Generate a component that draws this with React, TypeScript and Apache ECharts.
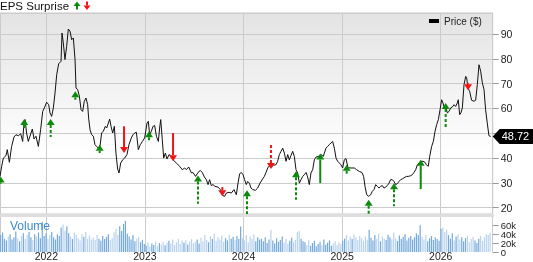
import React, { useEffect, useRef } from 'react';
import * as echarts from 'echarts';

// ---- Data ----
// Weekly-ish closing prices; dates as decimal years
const PRICE_DATES = [
  2021.530, 2021.547, 2021.564, 2021.591, 2021.604, 2021.625, 2021.648, 2021.672, 2021.692, 2021.716,
  2021.740, 2021.760, 2021.773, 2021.784, 2021.800, 2021.817, 2021.834, 2021.858, 2021.875, 2021.895,
  2021.919, 2021.942, 2021.963, 2021.980, 2022.003, 2022.024, 2022.037, 2022.054, 2022.071, 2022.088,
  2022.105, 2022.125, 2022.149, 2022.159, 2022.172, 2022.189, 2022.206, 2022.223, 2022.240, 2022.257,
  2022.274, 2022.291, 2022.301, 2022.318, 2022.335, 2022.352, 2022.368, 2022.385, 2022.402, 2022.419,
  2022.429, 2022.443, 2022.460, 2022.477, 2022.493, 2022.510, 2022.527, 2022.544, 2022.561, 2022.578,
  2022.598, 2022.612, 2022.629, 2022.642, 2022.656, 2022.673, 2022.690, 2022.706, 2022.723, 2022.737,
  2022.754, 2022.774, 2022.794, 2022.818, 2022.838, 2022.862, 2022.879, 2022.896, 2022.913, 2022.933,
  2022.953, 2022.974, 2022.997, 2023.021, 2023.034, 2023.048, 2023.065, 2023.082, 2023.099, 2023.116,
  2023.136, 2023.149, 2023.160, 2023.176, 2023.190, 2023.207, 2023.224, 2023.244, 2023.261, 2023.285,
  2023.318, 2023.352, 2023.379, 2023.403, 2023.420, 2023.444, 2023.471, 2023.487, 2023.514, 2023.538,
  2023.562, 2023.582, 2023.602, 2023.623, 2023.640, 2023.656, 2023.673, 2023.690, 2023.711, 2023.741,
  2023.765, 2023.792, 2023.809, 2023.825, 2023.853, 2023.876, 2023.903, 2023.927, 2023.944, 2023.961,
  2023.978, 2023.995, 2024.011, 2024.028, 2024.042, 2024.059, 2024.076, 2024.093, 2024.120, 2024.143,
  2024.167, 2024.194, 2024.211, 2024.228, 2024.245, 2024.262, 2024.279, 2024.302, 2024.329, 2024.346,
  2024.363, 2024.380, 2024.397, 2024.414, 2024.431, 2024.448, 2024.464, 2024.481, 2024.498, 2024.515,
  2024.532, 2024.549, 2024.566, 2024.583, 2024.600, 2024.617, 2024.634, 2024.650, 2024.667, 2024.684,
  2024.701, 2024.718, 2024.735, 2024.762, 2024.786, 2024.809, 2024.836, 2024.853, 2024.870, 2024.887,
  2024.904, 2024.921, 2024.938, 2024.955, 2024.972, 2024.988, 2025.005, 2025.022, 2025.039, 2025.056,
  2025.073, 2025.100, 2025.124, 2025.147, 2025.174, 2025.201, 2025.218, 2025.232, 2025.249, 2025.269,
  2025.289, 2025.306, 2025.323, 2025.340, 2025.357, 2025.374, 2025.391, 2025.408, 2025.425, 2025.441,
  2025.458, 2025.475, 2025.492, 2025.509, 2025.526, 2025.543, 2025.560, 2025.577, 2025.594, 2025.610,
  2025.627, 2025.651, 2025.671, 2025.695, 2025.712, 2025.729, 2025.746, 2025.763, 2025.780, 2025.797,
  2025.820, 2025.840, 2025.854, 2025.874, 2025.888, 2025.908, 2025.925, 2025.942, 2025.959, 2025.976,
  2025.993, 2026.009, 2026.023, 2026.036, 2026.050, 2026.067, 2026.084, 2026.101, 2026.118, 2026.135,
  2026.151, 2026.168, 2026.178, 2026.192, 2026.205, 2026.219, 2026.236, 2026.253, 2026.263, 2026.276,
  2026.293, 2026.313, 2026.337, 2026.354, 2026.371, 2026.388, 2026.405, 2026.422, 2026.439, 2026.455,
  2026.472, 2026.489, 2026.506,
];
const PRICES = [
  32.6, 36.7, 40.0, 41.0, 43.4, 38.3, 44.7, 48.5, 49.4, 49.0,
  49.8, 46.7, 54.1, 55.5, 50.1, 46.7, 48.8, 51.7, 47.7, 48.8,
  44.7, 51.4, 58.8, 60.2, 62.5, 61.5, 58.2, 56.8, 60.2, 66.2,
  73.6, 78.0, 79.0, 90.4, 86.4, 79.7, 85.0, 92.0, 91.1, 87.7,
  88.4, 79.7, 68.2, 67.6, 64.9, 59.5, 58.8, 62.9, 64.2, 61.5,
  56.1, 51.4, 49.4, 48.8, 45.4, 44.7, 44.0, 44.7, 50.1, 50.8,
  52.8, 52.1, 54.1, 55.7, 52.8, 50.1, 52.8, 42.0, 35.6, 34.0,
  38.0, 39.3, 40.0, 41.4, 45.4, 48.1, 49.4, 50.1, 50.4, 43.4,
  45.4, 46.7, 48.1, 54.1, 54.8, 49.4, 50.8, 52.8, 53.1, 48.8,
  46.7, 52.1, 55.5, 47.4, 40.0, 42.0, 39.6, 41.4, 41.0, 39.3,
  38.0, 36.7, 35.3, 36.0, 35.3, 36.4, 34.0, 34.2, 32.6, 34.2,
  35.0, 34.2, 32.4, 31.3, 29.3, 31.3, 28.9, 29.3, 28.6, 28.3,
  27.3, 24.8, 24.6, 25.9, 26.2, 25.9, 27.3, 25.2, 29.9, 33.7,
  34.2, 33.3, 31.3, 29.3, 30.6, 29.9, 27.9, 27.3, 27.0, 27.9,
  29.9, 31.6, 32.6, 34.2, 36.0, 36.9, 36.4, 37.1, 37.3, 38.7,
  41.4, 42.7, 44.0, 42.0, 38.7, 41.4, 39.3, 41.0, 42.7, 40.7,
  35.3, 34.0, 29.9, 31.3, 32.6, 33.3, 34.2, 32.4, 29.3, 34.0,
  35.3, 39.3, 40.4, 40.7, 41.4, 40.7, 44.0, 44.7, 45.4, 46.1,
  46.7, 44.0, 40.0, 38.7, 38.0, 37.3, 36.0, 39.3, 39.8, 36.7,
  36.0, 36.0, 36.0, 35.3, 34.6, 34.2, 32.6, 28.6, 25.2, 24.6,
  25.2, 26.6, 27.3, 29.3, 28.6, 27.9, 28.6, 28.9, 27.9, 28.3,
  28.9, 29.9, 31.3, 31.3, 30.6, 29.3, 29.7, 30.6, 31.3, 31.6,
  32.0, 32.6, 32.6, 32.9, 33.3, 34.2, 35.3, 37.3, 38.0, 38.7,
  38.7, 38.3, 37.3, 36.7, 40.7, 44.7, 46.7, 50.8, 53.5, 55.5,
  59.5, 63.5, 62.2, 60.2, 60.8, 58.2, 58.8, 60.2, 60.6, 61.5,
  60.8, 62.2, 63.5, 57.5, 58.2, 60.2, 69.6, 72.9, 72.3, 68.2,
  66.9, 63.3, 62.9, 63.3, 69.6, 77.6, 75.0, 70.3, 67.6, 59.5,
  54.1, 49.0, 48.72,
];

// EPS surprise arrows: date, price at arrow tip, price at arrow tail, beat (1 up / 0 down), dashed shaft
const EPS_DATES = [
  2021.537, 2021.776, 2022.044, 2022.294, 2022.541, 2022.788, 2023.041, 2023.285, 2023.538, 2023.785,
  2024.035, 2024.278, 2024.532, 2024.778, 2025.046, 2025.269, 2025.526, 2025.797, 2026.050, 2026.277,
];
const EPS_TIP = [
  32.6, 55.7, 55.7, 66.9, 45.4, 42.0, 50.8, 38.7, 33.0, 24.6,
  27.0, 35.6, 34.7, 41.8, 37.3, 23.2, 29.9, 39.3, 62.2, 67.3,
];
const EPS_TAIL = [
  29.7, 52.1, 48.5, 63.5, 42.0, 52.8, 47.2, 50.1, 21.6, 28.3,
  17.5, 45.4, 23.2, 29.9, 33.7, 17.5, 20.6, 27.5, 52.1, 70.2,
];
const EPS_BEAT = [1, 1, 1, 1, 1, 0, 1, 0, 1, 0, 1, 0, 1, 1, 1, 1, 1, 1, 1, 0];
const EPS_DASHED = [0, 0, 1, 0, 0, 0, 1, 0, 1, 0, 1, 1, 1, 0, 0, 1, 1, 0, 1, 0];

// Weekly volume (thousands of shares)
const VOLUME_START = 2021.537;
const VOLUME_WEEK = 1 / 52.18;
const VOLUMES_K = [
  38, 44, 30, 26, 35, 40, 28, 33, 46, 31, 24, 36, 42, 29, 38, 45, 33, 27,
  40, 35, 44, 31,
  68,
  36, 42, 30, 38, 45, 33, 28, 40, 36,
  55, 62, 48, 58,
  42, 35, 29, 44, 38, 31, 26, 40, 34, 45, 30, 37, 28,
  33, 27, 38, 30, 25, 36, 29, 34, 40, 27, 31,
  44, 52, 38, 58, 47, 63, 70, 41,
  35, 28, 38, 24, 30, 33, 22, 27,
  18, 14, 22, 12, 19, 16, 24, 13, 20, 17, 23, 15, 21,
  25, 19, 28, 16, 22, 30, 18, 26, 21, 27, 17, 24, 29, 20, 23, 28, 19,
  32, 24, 38, 27, 22, 35, 29, 41, 25, 33, 28, 37, 23, 31, 26, 39, 30, 34, 27, 36, 29, 57,
  31, 26, 38, 22, 35, 29, 40, 24, 33, 28,
  30, 24, 33, 20, 28, 50, 26, 19, 31, 23, 27, 35, 21, 29, 18, 25, 32, 22,
  27, 45, 48, 30, 24,
  22, 16, 27, 14, 20, 25, 13, 18, 23, 15, 28, 17, 21, 26, 14, 19, 24, 16, 22, 18, 25,
  30, 38, 26, 34, 29, 40, 33, 27, 36, 31, 25, 35, 28, 50,
  32, 26, 38, 29, 41, 24, 35, 30, 27, 39, 33, 28, 44, 31, 25, 37, 29, 34, 40, 26, 32, 36, 28, 33, 42, 38, 60,
  34, 28, 38, 24, 31, 36, 27, 33, 29, 25,
  52, 55, 45, 50,
  38, 30, 42, 26, 35, 40, 28, 33, 24, 31, 37, 22, 29, 34, 26, 20, 30, 36, 25, 33, 40, 38, 43,
];

const X_MIN = 2021.53;
const X_MAX = 2026.527;
const PRICE_MIN = 17.46;
const PRICE_MAX = 98.46;
const VOL_MAX = 78600;
const VOL_STEP = 20000;

const FONT = "'Liberation Sans', Arial, Helvetica, sans-serif";
const GRID_COLOR = '#cbcbcb';
const GREEN = '#0b8a0b';
const RED = '#f01414';

const VOL_PX = 35; // height of the volume panel

export default function App() {
  const ref = useRef<HTMLDivElement>(null);

  useEffect(() => {
    if (!ref.current) return;
    const chart = echarts.init(ref.current, null, { renderer: 'svg' });

    const priceData = PRICE_DATES.map((d, i) => [d, PRICES[i]]);
    const lastPrice = PRICES[PRICES.length - 1];
    const priceAt = (t: number) => {
      if (t <= PRICE_DATES[0]) return PRICES[0];
      for (let i = 1; i < PRICE_DATES.length; i++) {
        if (t <= PRICE_DATES[i]) {
          const a = PRICE_DATES[i - 1];
          const b = PRICE_DATES[i];
          const f = (t - a) / (b - a);
          return PRICES[i - 1] + f * (PRICES[i] - PRICES[i - 1]);
        }
      }
      return lastPrice;
    };
    const volumeData = VOLUMES_K.map((v, i) => {
      const t = VOLUME_START + i * VOLUME_WEEK;
      const up = priceAt(t + VOLUME_WEEK / 2) >= priceAt(t - VOLUME_WEEK / 2);
      return { value: [t, v * 1000], itemStyle: { color: up ? '#74a9dc' : '#b9d3ee' } };
    });
    const epsData = EPS_DATES.map((d, i) => [d, EPS_TIP[i], EPS_TAIL[i], EPS_BEAT[i], EPS_DASHED[i]]);
    const last = priceData[priceData.length - 1];

    const yearLabel = (v: number) =>
      Math.abs(v - Math.round(v)) < 1e-6 ? String(Math.round(v)) : '';

    const xBase: any = {
      type: 'value',
      min: X_MIN,
      max: X_MAX,
      splitNumber: 5,
      axisTick: { show: false },
      splitLine: { show: true, lineStyle: { color: GRID_COLOR, width: 1 } },
    };

    // second, invisible panel that carries the 20k / 60k labels of the volume scale
    // (same scale as the volume panel, shifted down by one 20k step)
    const pxPerVol = VOL_PX / VOL_MAX;
    const volLabelPanelH = VOL_PX + VOL_STEP * pxPerVol;

    const volLabel = {
      margin: 8,
      fontSize: 9.5,
      lineHeight: 7,
      color: '#222',
      fontFamily: FONT,
      hideOverlap: false,
    };

    const option: any = {
      animation: false,
      textStyle: { fontFamily: FONT },
      title: [
        {
          text: 'EPS Surprise',
          left: 0,
          top: 0,
          padding: 0,
          textStyle: { fontSize: 11.5, fontWeight: 'normal', color: '#111', fontFamily: FONT },
        },
        {
          text: 'Volume',
          left: 10,
          top: 220,
          padding: 0,
          textStyle: { fontSize: 12, fontWeight: 'normal', color: '#3d8bd0', fontFamily: FONT },
        },
      ],
      legend: {
        data: [{ name: 'Price ($)', icon: 'rect', itemStyle: { color: '#000' } }],
        left: 429,
        top: 16,
        padding: 0,
        itemWidth: 10,
        itemHeight: 4,
        itemGap: 0,
        textStyle: { fontSize: 10, color: '#222', fontFamily: FONT },
      },
      graphic: [
        { type: 'polygon', shape: { points: [[73.5, 6], [77, 1.5], [80.5, 6]] }, style: { fill: GREEN } },
        { type: 'rect', shape: { x: 76, y: 6, width: 2, height: 3.5 }, style: { fill: GREEN } },
        { type: 'rect', shape: { x: 86, y: 1.5, width: 2, height: 4 }, style: { fill: RED } },
        { type: 'polygon', shape: { points: [[83.5, 5.5], [87, 10], [90.5, 5.5]] }, style: { fill: RED } },
      ],
      grid: [
        {
          left: 0,
          right: 40.3,
          top: 13,
          height: 201,
          show: true,
          outerBoundsMode: 'none',
          backgroundColor: new echarts.graphic.LinearGradient(0, 0, 0, 1, [
            { offset: 0, color: '#e3e3e3' },
            { offset: 0.7, color: '#ffffff' },
            { offset: 1, color: '#ffffff' },
          ]),
          borderColor: GRID_COLOR,
          borderWidth: 1,
        },
        {
          left: 0,
          right: 40.3,
          top: 217,
          height: VOL_PX,
          show: true,
          outerBoundsMode: 'none',
          backgroundColor: '#ffffff',
          borderWidth: 0,
        },
        {
          left: 0,
          right: 40.3,
          top: 217,
          height: volLabelPanelH,
          show: false,
          outerBoundsMode: 'none',
        },
      ],
      xAxis: [
        {
          ...xBase,
          gridIndex: 0,
          offset: 1.5,
          axisLabel: { show: false },
          axisLine: { show: true, lineStyle: { color: '#dedede', width: 3 } },
        },
        {
          ...xBase,
          gridIndex: 1,
          axisLine: { show: false },
          axisLabel: {
            show: true,
            formatter: yearLabel,
            showMinLabel: false,
            showMaxLabel: false,
            hideOverlap: false,
            margin: -1,
            fontSize: 10.5,
            lineHeight: 10,
            color: '#222',
            fontFamily: FONT,
          },
        },
        {
          type: 'value',
          gridIndex: 2,
          min: X_MIN,
          max: X_MAX,
          show: false,
        },
      ],
      yAxis: [
        {
          gridIndex: 0,
          type: 'value',
          position: 'right',
          min: PRICE_MIN,
          max: PRICE_MAX,
          splitNumber: 8,
          axisLine: { show: true, lineStyle: { color: GRID_COLOR } },
          axisTick: { show: true, length: 6, lineStyle: { color: '#9a9a9a' } },
          axisLabel: {
            margin: 8,
            fontSize: 10.5,
            color: '#222',
            fontFamily: FONT,
            showMinLabel: false,
            showMaxLabel: false,
            hideOverlap: false,
            // the label hidden under the last-price tag is not shown
            formatter: (v: number) =>
              Math.abs(v - Math.round(v)) < 1e-6 && Math.abs(v - lastPrice) > 4 ? String(Math.round(v)) : '',
          },
          splitLine: { show: true, lineStyle: { color: GRID_COLOR } },
        },
        {
          gridIndex: 1,
          type: 'value',
          position: 'right',
          min: 0,
          max: VOL_MAX,
          interval: VOL_STEP,
          axisLine: { show: true, lineStyle: { color: GRID_COLOR } },
          axisTick: { show: true, length: 6, lineStyle: { color: '#9a9a9a' } },
          axisLabel: {
            ...volLabel,
            showMinLabel: true,
            showMaxLabel: false,
            formatter: (v: number) => (v === 0 ? '0' : v === 2 * VOL_STEP ? v / 1000 + 'k' : ''),
          },
          splitLine: { show: false },
        },
        {
          gridIndex: 2,
          type: 'value',
          position: 'right',
          min: 0,
          max: VOL_MAX + VOL_STEP,
          interval: 2 * VOL_STEP,
          axisLine: { show: false },
          axisTick: { show: false },
          splitLine: { show: false },
          axisLabel: {
            ...volLabel,
            showMinLabel: false,
            showMaxLabel: false,
            formatter: (v: number) => {
              const real = v - VOL_STEP;
              return real > 0 && real < VOL_MAX && real % VOL_STEP === 0 ? real / 1000 + 'k' : '';
            },
          },
        },
      ],
      series: [
        {
          name: 'Price ($)',
          type: 'line',
          xAxisIndex: 0,
          yAxisIndex: 0,
          data: priceData,
          showSymbol: false,
          symbol: 'none',
          lineStyle: { color: '#111', width: 1 },
          itemStyle: { color: '#000' },
          z: 3,
        },
        {
          type: 'custom',
          xAxisIndex: 0,
          yAxisIndex: 0,
          data: epsData,
          clip: false,
          z: 4,
          renderItem: (params: any, api: any) => {
            const t = api.value(0);
            const tip = api.coord([t, api.value(1)]);
            const tail = api.coord([t, api.value(2)]);
            const beat = api.value(3) === 1;
            const dashed = api.value(4) === 1;
            const color = beat ? GREEN : RED;
            const x = tip[0];
            const dir = beat ? 1 : -1;
            const headH = 6;
            const headW = 4;
            const baseY = tip[1] + dir * headH;
            const children: any[] = [];
            if ((tail[1] - baseY) * dir > 0) {
              children.push({
                type: 'line',
                shape: { x1: x, y1: baseY, x2: x, y2: tail[1] },
                style: { stroke: color, lineWidth: 2, lineDash: dashed ? [3, 2] : null, fill: null },
              });
            }
            children.push({
              type: 'polygon',
              shape: { points: [[x - headW, baseY], [x, tip[1]], [x + headW, baseY]] },
              style: { fill: color },
            });
            return { type: 'group', children };
          },
        },
        {
          type: 'custom',
          xAxisIndex: 0,
          yAxisIndex: 0,
          data: [last],
          clip: false,
          z: 5,
          renderItem: (params: any, api: any) => {
            const p = api.coord([api.value(0), api.value(1)]);
            const cs = params.coordSys;
            const x0 = cs.x + cs.width;
            const y = p[1];
            return {
              type: 'group',
              children: [
                {
                  type: 'polygon',
                  shape: {
                    points: [[x0, y], [x0 + 7, y - 7.5], [x0 + 41, y - 7.5], [x0 + 41, y + 7.5], [x0 + 7, y + 7.5]],
                  },
                  style: { fill: '#000' },
                },
                {
                  type: 'text',
                  x: x0 + 9,
                  y: y,
                  style: {
                    text: Number(api.value(1)).toFixed(2),
                    fill: '#fff',
                    fontSize: 11,
                    fontFamily: FONT,
                    align: 'left',
                    verticalAlign: 'middle',
                    textAlign: 'left',
                    textVerticalAlign: 'middle',
                  },
                },
              ],
            };
          },
        },
        {
          type: 'bar',
          xAxisIndex: 1,
          yAxisIndex: 1,
          data: volumeData,
          barWidth: 1.2,
          z: 2,
        },
      ],
    };

    chart.setOption(option);
    return () => chart.dispose();
  }, []);

  return <div ref={ref} style={{ position: 'fixed', left: 0, top: 0, width: 533, height: 262 }} />;
}
